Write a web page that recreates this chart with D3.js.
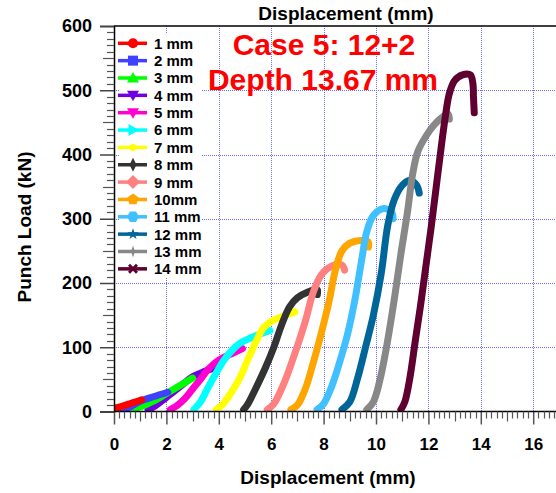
<!DOCTYPE html>
<html><head><meta charset="utf-8">
<script src="https://cdn.jsdelivr.net/npm/d3@7"></script>
<style>
body{margin:0;background:#fff}
svg{display:block}
text{font-family:"Liberation Sans",Arial,Helvetica,sans-serif;font-weight:bold}
</style>
</head><body>
<svg id="chart" width="556" height="493"></svg>
<script>
// ---------- data ----------
const seriesNames = ["1 mm","2 mm","3 mm","4 mm","5 mm","6 mm","7 mm","8 mm","9 mm","10mm","11 mm","12 mm","13 mm","14 mm"];
const seriesColors = ["#ff0000","#4040ff","#00ff00","#7000e0","#ff00d0","#00ffff","#ffff00","#333333","#ff8080","#ffa500","#40c0ff","#006699","#888888","#600030"];
const seriesMarkers = ["circle","square","triUp","triDown","triDown","triRight","diamondWide","diamondThin","diamond","pentagon","hexagon","star","star4","cross"];
const xTicks = [0,2,4,6,8,10,12,14,16];
const yTicks = [0,100,200,300,400,500,600];
const titleTop = "Displacement (mm)";
const titleBottom = "Displacement (mm)";
const titleLeft = "Punch Load (kN)";
const noteLine1 = "Case 5: 12+2";
const noteLine2 = "Depth 13.67 mm";

// displacement (mm), punch load (kN)
const curve1 = [[0,5],[0.3,8],[0.6,12],[0.9,16],[1.05,18]];
const curve2 = [[0.2,3],[0.6,7],[1.0,16],[1.5,23],[2.05,30]];
const curve3 = [[0.6,3],[1.0,7],[1.5,16],[2.0,28],[2.5,40],[3.0,52]];
const curve4 = [[1.3,3],[1.5,7],[2.0,22],[2.5,38],[3.0,54],[3.5,63],[4.0,71]];
const curve5 = [[2.15,3],[2.4,9],[2.7,20],[3.0,35],[3.3,50],[3.6,66],[4.0,80],[4.5,90],[4.9,98]];
const curve6 = [[3.05,3],[3.3,15],[3.6,38],[3.9,60],[4.2,80],[4.5,95],[4.8,106],[5.3,116],[5.95,126]];
const curve7 = [[3.9,3],[4.1,9],[4.4,25],[4.8,52],[5.1,80],[5.4,107],[5.7,130],[6.0,140],[6.5,149],[6.9,155]];
const curve8 = [[4.95,3],[5.1,11],[5.4,35],[5.8,70],[6.1,100],[6.4,135],[6.7,163],[7.0,177],[7.4,186],[7.75,190],[7.76,182]];
const curve9 = [[5.85,3],[6.1,12],[6.5,45],[6.9,90],[7.3,140],[7.6,185],[7.9,212],[8.3,226],[8.7,228],[8.8,220]];
const curve10 = [[6.75,3],[7.0,10],[7.3,35],[7.6,75],[7.9,120],[8.2,170],[8.45,220],[8.7,250],[9.0,262],[9.4,266],[9.7,264],[9.71,256]];
const curve11 = [[7.75,3],[8.0,12],[8.3,38],[8.6,75],[8.9,118],[9.2,175],[9.45,235],[9.65,280],[9.9,305],[10.3,316],[10.6,310],[10.65,300]];
const curve12 = [[8.7,3],[9.0,15],[9.3,52],[9.6,100],[9.9,150],[10.2,215],[10.45,290],[10.7,330],[11.0,352],[11.3,360],[11.55,352],[11.65,340]];
const curve13 = [[9.65,3],[9.9,15],[10.15,49],[10.4,100],[10.7,175],[10.95,245],[11.2,310],[11.4,370],[11.6,405],[11.9,428],[12.2,445],[12.5,457],[12.75,463],[12.8,455]];
const curve14 = [[10.95,3],[11.1,15],[11.3,54],[11.5,110],[11.7,165],[11.9,225],[12.1,285],[12.3,350],[12.5,415],[12.65,460],[12.8,495],[13.0,515],[13.3,524],[13.6,524],[13.7,510],[13.72,490],[13.75,465]];
const curves = [curve1,curve2,curve3,curve4,curve5,curve6,curve7,curve8,curve9,curve10,curve11,curve12,curve13,curve14];
const drawOrder = [3,2,1,0,4,5,6,7,8,9,10,11,12,13];

// ---------- layout ----------
const svg = d3.select("#chart");
svg.append("rect").attr("width",556).attr("height",493).attr("fill","#fff");
const x = d3.scaleLinear().domain([0,17]).range([114, 114 + 17*26.2]);
const y = d3.scaleLinear().domain([0,600]).range([411.5, 26]);
const plotRight = 556;

svg.append("defs").append("clipPath").attr("id","plotclip")
  .append("rect").attr("x",x(0)).attr("y",y(600)).attr("width",plotRight-x(0)).attr("height",y(0)-y(600));

// grid
const grid = svg.append("g").attr("stroke","#6f6fff").attr("stroke-width",1).attr("stroke-dasharray","1,1");
grid.selectAll("line.v").data(xTicks.filter(t=>t>0)).join("line").attr("class","v")
  .attr("x1",d=>Math.round(x(d))+0.5).attr("x2",d=>Math.round(x(d))+0.5).attr("y1",y(600)).attr("y2",y(0));
grid.selectAll("line.h").data(yTicks.filter(t=>t>0 && t<600)).join("line").attr("class","h")
  .attr("x1",x(0)).attr("x2",plotRight).attr("y1",d=>Math.round(y(d))+0.5).attr("y2",d=>Math.round(y(d))+0.5);

// legend background (hides grid)
svg.append("rect").attr("x",119).attr("y",34).attr("width",83).attr("height",243).attr("fill","#fff");

// curves
const line = d3.line().x(d=>x(d[0])).y(d=>y(d[1])).curve(d3.curveCatmullRom.alpha(0.5));
const cg = svg.append("g").attr("clip-path","url(#plotclip)");
drawOrder.forEach(i=>{
  cg.append("path").attr("d",line(curves[i])).attr("fill","none")
    .attr("stroke",seriesColors[i]).attr("stroke-width",7)
    .attr("stroke-linecap","round").attr("stroke-linejoin","round");
});

// axes
const yAxis = d3.axisLeft(y).tickValues(yTicks).tickSize(14).tickPadding(8).tickFormat(d3.format("d"));
const gy = svg.append("g").attr("transform",`translate(${x(0)},0)`).call(yAxis);
gy.select(".domain").attr("stroke","#000").attr("stroke-width",1.5);
gy.selectAll(".tick line").attr("stroke","#444").attr("stroke-width",1.5);
gy.selectAll(".tick text").attr("font-size",18).attr("fill","#000").attr("font-family","Liberation Sans, Arial, sans-serif").attr("font-weight","bold");

const yMinor = d3.range(10,600,10).filter(v=>v%100!==0);
svg.append("g").selectAll("line").data(yMinor).join("line")
  .attr("x1",d=>x(0)-(d%50===0?11:7)).attr("x2",x(0))
  .attr("y1",d=>Math.round(y(d))+0.5).attr("y2",d=>Math.round(y(d))+0.5)
  .attr("stroke","#555").attr("stroke-width",1.2);

const xAxis = d3.axisBottom(x).tickValues(xTicks).tickSize(13).tickPadding(13).tickFormat(d3.format("d"));
const gx = svg.append("g").attr("transform",`translate(0,${y(0)})`).call(xAxis);
gx.select(".domain").remove();
gx.selectAll(".tick line").attr("stroke","#555").attr("stroke-width",1.5);
gx.selectAll(".tick text").attr("font-size",17).attr("fill","#000").attr("font-family","Liberation Sans, Arial, sans-serif").attr("font-weight","bold");
svg.append("line").attr("x1",x(0)).attr("x2",plotRight).attr("y1",y(0)).attr("y2",y(0)).attr("stroke","#000").attr("stroke-width",1.5);

const xMinor = d3.range(0.2,17,0.2).filter(v=>Math.abs(v/2-Math.round(v/2))>1e-6);
svg.append("g").selectAll("line").data(xMinor).join("line")
  .attr("x1",d=>Math.round(x(d))+0.5).attr("x2",d=>Math.round(x(d))+0.5)
  .attr("y1",y(0)).attr("y2",d=>y(0)+(Math.abs(d-Math.round(d))<1e-6?10:7))
  .attr("stroke","#555").attr("stroke-width",1.2);

// top axis line
svg.append("line").attr("x1",x(0)).attr("x2",plotRight).attr("y1",y(600)).attr("y2",y(600)).attr("stroke","#000").attr("stroke-width",1.5);

// titles
svg.append("text").attr("x",346).attr("y",20).attr("text-anchor","middle").attr("font-size",19).text(titleTop);
svg.append("text").attr("x",328).attr("y",484).attr("text-anchor","middle").attr("font-size",19).text(titleBottom);
svg.append("text").attr("transform","translate(31,227) rotate(-90)").attr("text-anchor","middle").attr("font-size",19).text(titleLeft);
svg.append("text").attr("x",324).attr("y",55).attr("text-anchor","middle").attr("font-size",30).attr("fill","#ff0000").text(noteLine1);
svg.append("text").attr("x",323).attr("y",90).attr("text-anchor","middle").attr("font-size",30).attr("fill","#ff0000").text(noteLine2);

// legend
function poly(n, r, rot){ const p=[]; for(let k=0;k<n;k++){const a=rot+2*Math.PI*k/n; p.push([r*Math.cos(a), r*Math.sin(a)]);} return "M"+p.map(q=>q.join(",")).join("L")+"Z"; }
function starPath(n, r1, r2){ const p=[]; for(let k=0;k<2*n;k++){const a=-Math.PI/2+Math.PI*k/n; const r=k%2?r2:r1; p.push([r*Math.cos(a), r*Math.sin(a)]);} return "M"+p.map(q=>q.join(",")).join("L")+"Z"; }
function markerPath(t){
  switch(t){
    case "circle": return d3.symbol(d3.symbolCircle,80)();
    case "square": return "M-5,-5H5V5H-5Z";
    case "triUp": return "M0,-6L6,4.5L-6,4.5Z";
    case "triDown": return "M0,6L6,-4.5L-6,-4.5Z";
    case "triRight": return "M6,0L-4.5,-6L-4.5,6Z";
    case "diamondWide": return "M-6,0L0,-4L6,0L0,4Z";
    case "diamondThin": return "M0,-7L3.5,0L0,7L-3.5,0Z";
    case "diamond": return "M0,-7L7,0L0,7L-7,0Z";
    case "pentagon": return poly(5,6,-Math.PI/2);
    case "hexagon": return poly(6,6,0);
    case "star": return starPath(5,6,2.4);
    case "star4": return starPath(4,6,2);
    case "cross": return "M-5,-3L-3,-5L0,-2L3,-5L5,-3L2,0L5,3L3,5L0,2L-3,5L-5,3L-2,0Z";
  }
}
const lg = svg.append("g");
seriesNames.forEach((name,i)=>{
  const yy = 43.3 + i*17.35;
  lg.append("line").attr("x1",118).attr("x2",147).attr("y1",yy).attr("y2",yy).attr("stroke",seriesColors[i]).attr("stroke-width",3.5);
  lg.append("path").attr("d",markerPath(seriesMarkers[i])).attr("transform",`translate(133,${yy})`).attr("fill",seriesColors[i]);
  lg.append("text").attr("x",154).attr("y",yy).attr("dy","0.36em").attr("font-size",15).attr("fill","#000").text(name);
});
</script>
</body></html>
